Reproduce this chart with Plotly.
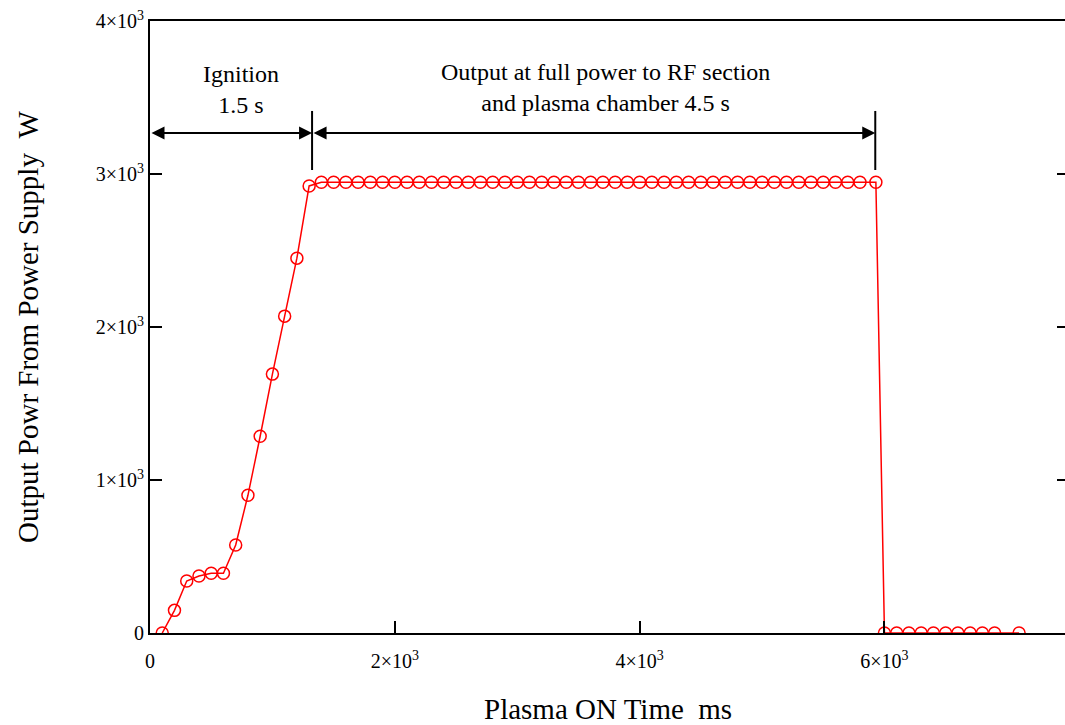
import plotly.graph_objects as go

# ---- data ----
time_ms = [100, 200, 300, 400, 500, 600, 700, 800, 900, 1000, 1100, 1200, 1300,
           1400, 1500, 1600, 1700, 1800, 1900, 2000, 2100, 2200, 2300, 2400, 2500,
           2600, 2700, 2800, 2900, 3000, 3100, 3200, 3300, 3400, 3500, 3600, 3700,
           3800, 3900, 4000, 4100, 4200, 4300, 4400, 4500, 4600, 4700, 4800, 4900,
           5000, 5100, 5200, 5300, 5400, 5500, 5600, 5700, 5800, 5930,
           6000, 6100, 6200, 6300, 6400, 6500, 6600, 6700, 6800, 6900, 7100]
power_w = [0, 148, 340, 372, 390, 390, 575, 900, 1286, 1692, 2071, 2450, 2922,
           2946, 2946, 2946, 2946, 2946, 2946, 2946, 2946, 2946, 2946, 2946, 2946,
           2946, 2946, 2946, 2946, 2946, 2946, 2946, 2946, 2946, 2946, 2946, 2946,
           2946, 2946, 2946, 2946, 2946, 2946, 2946, 2946, 2946, 2946, 2946, 2946,
           2946, 2946, 2946, 2946, 2946, 2946, 2946, 2946, 2946, 2946,
           0, 0, 0, 0, 0, 0, 0, 0, 0, 0, 0]

x_tickvals = [0, 2000, 4000, 6000]
x_ticktext = ["0", "2×10<sup>3</sup>", "4×10<sup>3</sup>", "6×10<sup>3</sup>"]
y_tickvals = [0, 1000, 2000, 3000, 4000]
y_ticktext = ["0", "1×10<sup>3</sup>", "2×10<sup>3</sup>", "3×10<sup>3</sup>", "4×10<sup>3</sup>"]

ignition_end = 1324
full_end = 5925
arrow_y = 3268

FONT = "Liberation Serif, Times New Roman, serif"

fig = go.Figure()
fig.add_trace(go.Scatter(
    x=time_ms, y=power_w, mode="lines+markers",
    line=dict(color="#ff0000", width=1.5),
    marker=dict(symbol="circle-open", size=12, color="#ff0000", line=dict(width=1.5)),
    cliponaxis=True, showlegend=False,
))
# invisible trace on the right axis so its ticks appear
fig.add_trace(go.Scatter(x=[0], y=[0], yaxis="y2", mode="markers",
                         marker=dict(opacity=0), showlegend=False, hoverinfo="skip"))

# vertical separators
for xv in [ignition_end, full_end]:
    fig.add_shape(type="line", x0=xv, x1=xv, y0=3026, y1=3412,
                  line=dict(color="black", width=2), xref="x", yref="y")

# double-headed arrows
for x0, x1 in [(0, ignition_end), (ignition_end, full_end)]:
    fig.add_annotation(x=x1, y=arrow_y, ax=x0, ay=arrow_y, xref="x", yref="y",
                       axref="x", ayref="y", text="", showarrow=True,
                       arrowhead=2, startarrowhead=2, arrowside="end+start",
                       arrowwidth=2, arrowsize=1.3, startarrowsize=1.3,
                       arrowcolor="black", standoff=0, startstandoff=0)

fig.add_annotation(x=743, y=3552, xref="x", yref="y", showarrow=False,
                   text="Ignition<br>1.5 s", font=dict(family=FONT, size=24, color="black"),
                   bgcolor="white", align="center")
fig.add_annotation(x=3720, y=3565, xref="x", yref="y", showarrow=False,
                   text="Output at full power to RF section<br>and plasma chamber 4.5 s",
                   font=dict(family=FONT, size=24, color="black"),
                   bgcolor="white", align="center")

# axis titles
fig.add_annotation(x=-(150 - 28) / 915, y=0.5, xref="paper", yref="paper",
                   text="Output Powr From Power Supply\u00a0\u00a0W", textangle=-90,
                   showarrow=False, xanchor="center", yanchor="middle",
                   font=dict(family=FONT, size=29, color="black"))
fig.add_annotation(x=0.5, y=-(709 - 633) / 612, xref="paper", yref="paper",
                   text="Plasma ON Time\u00a0\u00a0ms", showarrow=False,
                   xanchor="center", yanchor="middle",
                   font=dict(family=FONT, size=29, color="black"))

fig.update_layout(
    width=1065, height=725,
    margin=dict(l=150, r=0, t=21, b=92),
    paper_bgcolor="white", plot_bgcolor="white",
    font=dict(family=FONT, size=20, color="black"),
    xaxis=dict(range=[0, 7475], tickvals=x_tickvals, ticktext=x_ticktext,
               ticks="inside", ticklen=12, tickwidth=1.5, tickcolor="black",
               showline=True, linewidth=2, linecolor="black", mirror=True,
               showgrid=False, zeroline=False, ticklabelstandoff=9),
    yaxis=dict(range=[0, 4000], tickvals=y_tickvals, ticktext=y_ticktext,
               ticks="inside", ticklen=12, tickwidth=1.5, tickcolor="black",
               showline=True, linewidth=2, linecolor="black", mirror=False,
               showgrid=False, zeroline=False, ticklabelstandoff=0),
    yaxis2=dict(range=[0, 4000], overlaying="y", side="right",
                tickvals=[1000, 2000, 3000], ticks="inside", ticklen=8,
                tickwidth=1.5, tickcolor="black", showticklabels=False,
                showline=False, showgrid=False, zeroline=False),
)

fig.write_html("out.html")
